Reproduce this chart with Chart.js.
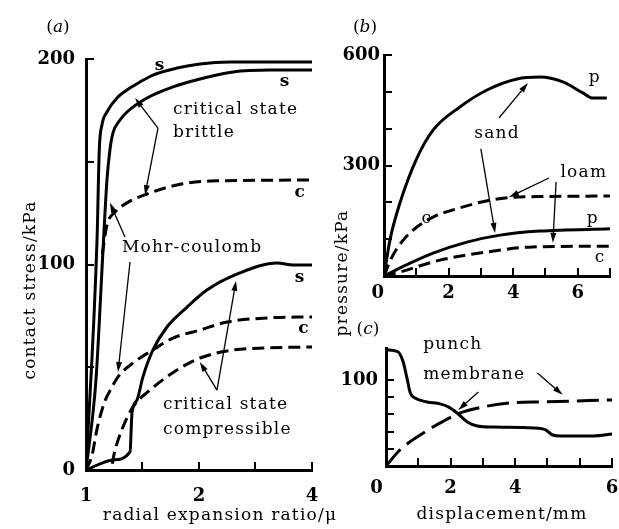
<!DOCTYPE html>
<html><head><meta charset="utf-8">
<script src="https://cdn.jsdelivr.net/npm/chart.js@4.4.1/dist/chart.umd.min.js"></script>
<style>
html,body{margin:0;padding:0;background:#fff;}
#wrap{position:relative;width:619px;height:529px;overflow:hidden;background:#fff;}
canvas{position:absolute;left:0;top:0;}
</style></head><body>
<div id="wrap">
<canvas id="ca" width="619" height="529"></canvas>
<canvas id="cb" width="619" height="529"></canvas>
<canvas id="cc" width="619" height="529"></canvas>
</div>
<script>
// ---------- Panel (a): contact stress vs radial expansion ratio (log x) ----------
const aXTicks = [1, 1.4142, 2, 2.8284, 4];
const aXTickLabels = ['1', '', '2', '', '4'];
const aYTicks = [0, 50, 100, 150, 200];
const aYTickLabels = ['0', '', '100', '', '200'];

const aBrittleUpperX = [1, 1.07, 1.085, 1.103, 1.137, 1.209, 1.286, 1.393, 1.508, 1.748, 2.012, 2.42, 4];
const aBrittleUpperY = [0, 112, 156, 168, 174.2, 181, 184.9, 188.8, 192.2, 195.6, 197.6, 198.5, 198.5];
const aBrittleLowerX = [1, 1.063, 1.110, 1.137, 1.158, 1.180, 1.232, 1.286, 1.454, 1.705, 2.012, 2.464, 3.09, 4];
const aBrittleLowerY = [0, 43.8, 107, 141, 155.7, 164, 170.3, 174.2, 181, 186.4, 190.3, 193.7, 194.6, 194.6];
const aBrittleMohrX = [1.105, 1.137, 1.195, 1.286, 1.454, 1.748, 2.14, 4];
const aBrittleMohrY = [105, 119.2, 125.5, 130, 134.3, 138.7, 140.6, 141.1];
const aCompressX = [1, 1.18, 1.31, 1.326, 1.367, 1.418, 1.508, 1.643, 1.859, 2.1, 2.57, 3.23, 3.56, 4];
const aCompressY = [0, 4.9, 8.8, 27.7, 34, 45.3, 58.4, 69.6, 79.3, 87.6, 95.9, 100.7, 99.8, 99.8];
const aMohrCompX = [1, 1.037, 1.07, 1.12, 1.17, 1.217, 1.334, 1.508, 1.705, 2.012, 2.375, 3.04, 4];
const aMohrCompY = [0, 7, 20, 33, 40, 45.3, 52.1, 58.4, 64.2, 68.1, 72, 74, 74.5];
const aCritCompX = [1.175, 1.19, 1.255, 1.334, 1.481, 1.748, 2.012, 2.464, 3.04, 4];
const aCritCompY = [3, 8.3, 21, 30.7, 38.9, 48.7, 54.5, 58.4, 59.4, 59.9];

// ---------- Panel (b): pressure vs displacement ----------
const bXTicks = [0, 1, 2, 3, 4, 5, 6, 7];
const bXTickLabels = ['0  ', '', '2', '', '4', '', '6', ''];
const bYTicks = [0, 100, 200, 300, 400, 500, 600];
const bYTickLabels = ['', '', '', '300', '', '', '600'];

const bSandPX = [0, 0.19, 0.5, 1.02, 1.52, 2.35, 3.19, 4.12, 4.83, 5.54, 6.16, 6.47, 6.9];
const bSandPY = [0, 100, 200, 320, 396, 459, 505, 535, 540, 527, 497, 483, 483];
const bSandCX = [0, 0.25, 0.6, 1.02, 1.52, 2.35, 3.28, 3.9, 5, 7];
const bSandCY = [0, 52, 98, 133, 160, 185, 206, 213, 216, 217];
const bLoamPX = [0, 0.5, 1.52, 2.57, 3.59, 4.83, 7];
const bLoamPY = [0, 22, 62, 92, 111, 122, 128];
const bLoamCX = [0, 0.5, 1.73, 3.19, 4.61, 7];
const bLoamCY = [0, 11, 43, 65, 79, 81];

// ---------- Panel (c): punch vs membrane ----------
const cXTicks = [0, 1, 2, 3, 4, 5, 6, 7];
const cXTickLabels = ['0   ', '', '2', '', '4', '', '', '6'];
const cYTicks = [0, 20, 40, 60, 80, 100];
const cYTickLabels = ['', '', '', '', '', '100'];

const cPunchX = [0, 0.37, 0.53, 0.65, 0.75, 0.9, 1.27, 1.68, 1.93, 2.2, 2.52, 2.83, 3.32, 4.57, 4.94, 5.16, 5.4, 6.43, 7.02];
const cPunchY = [135, 132.6, 121, 102, 85, 79, 74.4, 72.1, 68.6, 61.6, 51.2, 46.5, 45.3, 44.2, 41.9, 36, 34.9, 34.9, 37.2];
const cMembraneX = [0, 0.43, 1.06, 1.68, 2.3, 3.01, 3.85, 4.88, 7.02];
const cMembraneY = [0, 18.6, 36, 50, 61.6, 68.6, 73.3, 74.4, 76.7];

// ---------- rendering ----------
const SERIF = '"DejaVu Serif", "Liberation Serif", serif';
const TICKFONT = { family: SERIF, size: 18, weight: 'bold' };
const ANNFONT = '17px ' + SERIF;
const ANNBOLD = 'bold 17px ' + SERIF;

function pts(xs, ys) { return xs.map((x, i) => ({ x: x, y: ys[i] })); }
function ds(xs, ys, dash) {
  return { data: pts(xs, ys), borderColor: '#000', borderWidth: 3, borderDash: dash || [],
    pointRadius: 0, cubicInterpolationMode: 'monotone', fill: false, borderJoinStyle: 'round' };
}

function annotPlugin(texts, arrows, titles) {
  return {
    id: 'annot',
    afterDraw(chart) {
      const ctx = chart.ctx, xs = chart.scales.x, ys = chart.scales.y;
      ctx.save();
      ctx.fillStyle = '#000'; ctx.strokeStyle = '#000';
      ctx.textBaseline = 'middle';
      try { ctx.letterSpacing = '1.2px'; } catch (e) {}
      for (const t of texts) {
        ctx.font = t.bold ? ANNBOLD : ANNFONT;
        ctx.textAlign = t.align || 'center';
        ctx.fillText(t.text, xs.getPixelForValue(t.x), ys.getPixelForValue(t.y));
      }
      for (const a of arrows) {
        const x1 = xs.getPixelForValue(a[0][0]), y1 = ys.getPixelForValue(a[0][1]);
        const x2 = xs.getPixelForValue(a[1][0]), y2 = ys.getPixelForValue(a[1][1]);
        const ang = Math.atan2(y2 - y1, x2 - x1), c = Math.cos(ang), s = Math.sin(ang);
        const L = 10, W = 3;
        ctx.lineWidth = 1.3;
        ctx.beginPath(); ctx.moveTo(x1, y1); ctx.lineTo(x2 - L * 0.7 * c, y2 - L * 0.7 * s); ctx.stroke();
        ctx.beginPath(); ctx.moveTo(x2, y2);
        ctx.lineTo(x2 - L * c + W * s, y2 - L * s - W * c);
        ctx.lineTo(x2 - L * c - W * s, y2 - L * s + W * c);
        ctx.closePath(); ctx.fill();
      }
      for (const t of titles) {
        ctx.save();
        ctx.translate(t.px, t.py);
        if (t.rot) ctx.rotate(-Math.PI / 2);
        ctx.textAlign = 'center';
        if (t.panel) {
          ctx.font = ANNFONT;
          try { ctx.letterSpacing = '0px'; } catch (e) {}
          const wl = ctx.measureText('(').width;
          ctx.font = 'italic 17px ' + SERIF;
          const wm = ctx.measureText(t.panel).width;
          const tot = wl * 2 + wm;
          ctx.textAlign = 'left';
          ctx.font = ANNFONT; ctx.fillText('(', -tot / 2, 0);
          ctx.font = 'italic 17px ' + SERIF; ctx.fillText(t.panel, -tot / 2 + wl, 0);
          ctx.font = ANNFONT; ctx.fillText(')', -tot / 2 + wl + wm, 0);
        } else {
          ctx.font = ANNFONT;
          ctx.fillText(t.text, 0, 0);
        }
        ctx.restore();
      }
      ctx.restore();
    }
  };
}

function noPad(s) { s.paddingLeft = 0; s.paddingRight = 0; s.paddingTop = 0; s.paddingBottom = 0; }

function panel(id, c) {
  return new Chart(document.getElementById(id), {
    type: 'line',
    data: { datasets: c.datasets },
    options: {
      responsive: false, animation: false, devicePixelRatio: 1, events: [],
      layout: { padding: c.pad },
      plugins: { legend: { display: false }, tooltip: { enabled: false }, title: { display: false } },
      scales: {
        x: {
          type: c.xType, min: c.xMin, max: c.xMax,
          afterFit: s => { s.height = c.xH; noPad(s); },
          afterBuildTicks: s => { s.ticks = c.xTicks.map(v => ({ value: v })); },
          ticks: { autoSkip: false, maxRotation: 0, minRotation: 0, padding: c.xPad + 2, color: '#000', font: TICKFONT,
                   callback: (v, i) => c.xLabels[i] },
          grid: { display: true, drawOnChartArea: false, drawTicks: true, tickLength: -8, color: '#000', lineWidth: 2 },
          border: { display: true, color: '#000', width: 3 }
        },
        y: {
          type: 'linear', min: c.yMin, max: c.yMax,
          afterFit: s => { s.width = c.yW; noPad(s); },
          afterBuildTicks: s => { s.ticks = c.yTicks.map(v => ({ value: v })); },
          ticks: { autoSkip: false, padding: c.yPad + 2, color: '#000', font: TICKFONT,
                   callback: (v, i) => c.yLabels[i] },
          grid: { display: true, drawOnChartArea: false, drawTicks: true, tickLength: -8, color: '#000', lineWidth: 2 },
          border: { display: true, color: '#000', width: 3 }
        }
      }
    },
    plugins: [c.plugin]
  });
}

const DASH = [12, 6];

panel('ca', {
  xType: 'logarithmic', xMin: 1, xMax: 4, yMin: 0, yMax: 200,
  xTicks: aXTicks, xLabels: aXTickLabels, yTicks: aYTicks, yLabels: aYTickLabels,
  yW: 50, xH: 40,
  pad: { left: 36, top: 59, right: 307, bottom: 19 }, xPad: 22, yPad: 17,
  datasets: [
    ds(aBrittleUpperX, aBrittleUpperY), ds(aBrittleLowerX, aBrittleLowerY),
    ds(aBrittleMohrX, aBrittleMohrY, DASH), ds(aCompressX, aCompressY),
    ds(aMohrCompX, aMohrCompY, DASH), ds(aCritCompX, aCritCompY, DASH)
  ],
  plugin: annotPlugin([
    { text: 's', x: 1.575, y: 197, bold: true },
    { text: 's', x: 3.39, y: 188.8, bold: true },
    { text: 'critical state', x: 1.705, y: 175.2, align: 'left' },
    { text: 'brittle', x: 1.705, y: 164, align: 'left' },
    { text: 'c', x: 3.72, y: 134.8, bold: true },
    { text: 'Mohr-coulomb', x: 1.247, y: 108, align: 'left' },
    { text: 's', x: 3.72, y: 93.4, bold: true },
    { text: 'c', x: 3.81, y: 69, bold: true },
    { text: 'critical state', x: 1.604, y: 31.6, align: 'left' },
    { text: 'compressible', x: 1.604, y: 19.5, align: 'left' }
  ], [
    [[1.555, 166.4], [1.351, 181]], [[1.555, 166.4], [1.436, 133.8]],
    [[1.27, 113.4], [1.158, 130]], [[1.31, 101.2], [1.217, 47.7]],
    [[2.233, 38.9], [2.51, 92]], [[2.233, 38.9], [2.01, 52.6]]
  ], [
    { panel: 'a', px: 58, py: 28 },
    { text: 'contact stress/kPa', px: 31, py: 290, rot: true },
    { text: 'radial expansion ratio/\u03bc', px: 220, py: 516 }
  ])
});

panel('cb', {
  xType: 'linear', xMin: 0, xMax: 7, yMin: 0, yMax: 600,
  xTicks: bXTicks, xLabels: bXTickLabels, yTicks: bYTicks, yLabels: bYTickLabels,
  yW: 50, xH: 34,
  pad: { left: 334, top: 55, right: 9, bottom: 219 }, xPad: 13, yPad: 10,
  datasets: [
    ds(bSandPX, bSandPY), ds(bSandCX, bSandCY, DASH),
    ds(bLoamPX, bLoamPY), ds(bLoamCX, bLoamCY, DASH)
  ],
  plugin: annotPlugin([
    { text: 'p', x: 6.53, y: 540 },
    { text: 'sand', x: 3.5, y: 388 },
    { text: 'loam', x: 6.19, y: 282 },
    { text: 'c', x: 1.33, y: 157 },
    { text: 'p', x: 6.47, y: 157 },
    { text: 'c', x: 6.69, y: 49 }
  ], [
    [[3.56, 429], [4.46, 524]], [[3.0, 345], [3.44, 117]],
    [[5.11, 266], [3.87, 214]], [[5.33, 255], [5.23, 90]]
  ], [
    { panel: 'b', px: 365, py: 28 },
    { text: 'pressure/kPa', px: 343, py: 273, rot: true }
  ])
});

panel('cc', {
  xType: 'linear', xMin: 0, xMax: 7, yMin: 0, yMax: 137,
  xTicks: cXTicks, xLabels: cXTickLabels, yTicks: cYTicks, yLabels: cYTickLabels,
  yW: 44, xH: 38,
  pad: { left: 342, top: 348, right: 7, bottom: 25 }, xPad: 18, yPad: 14,
  datasets: [
    ds(cPunchX, cPunchY), ds(cMembraneX, cMembraneY, [22, 8])
  ],
  plugin: annotPlugin([
    { text: 'punch', x: 1.15, y: 140.7, align: 'left' },
    { text: 'membrane', x: 1.15, y: 105.8, align: 'left' }
  ], [
    [[2.86, 86], [2.24, 65]], [[4.69, 108], [5.47, 82.6]]
  ], [
    { panel: 'c', px: 368, py: 330 },
    { text: 'displacement/mm', px: 502, py: 515 }
  ])
});
</script>
</body></html>
